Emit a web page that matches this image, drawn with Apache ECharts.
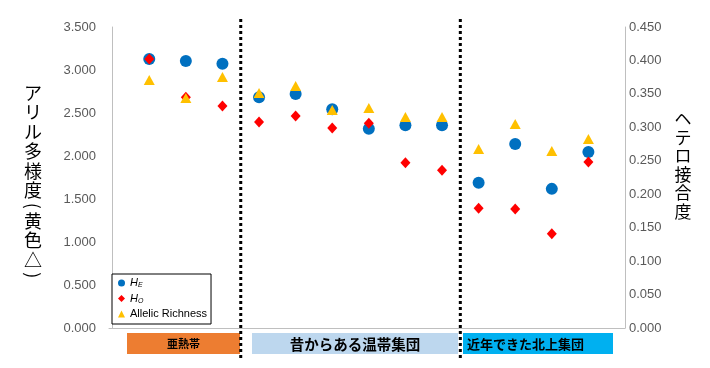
<!DOCTYPE html>
<html><head><meta charset="utf-8">
<script src="https://cdn.jsdelivr.net/npm/echarts@6/dist/echarts.min.js"></script>
<style>html,body{margin:0;padding:0;background:#fff}#c{width:710px;height:368px}</style>
</head><body><div id="c"></div>
<script>
// population positions along the x axis (1..13)
const positions = [1,2,3,4,5,6,7,8,9,10,11,12,13];
const groupNames = ['亜熱帯','昔からある温帯集団','近年できた北上集団'];
const groupDividers = [3.5, 9.5];
const seriesNames = ['HE','HO','Allelic Richness'];
// expected heterozygosity (right axis)
const heValues = [0.402,0.399,0.395,0.345,0.350,0.327,0.298,0.303,0.303,0.217,0.275,0.208,0.263];
// observed heterozygosity (right axis)
const hoValues = [0.402,0.345,0.332,0.308,0.317,0.299,0.306,0.247,0.236,0.179,0.178,0.141,0.248];
// allelic richness (left axis)
const arValues = [2.884,2.674,2.919,2.733,2.814,2.535,2.558,2.453,2.453,2.081,2.372,2.058,2.198];
const leftAxisName = 'アリル多様度（黄色△）';
const rightAxisName = 'ヘテロ接合度';

const toPairs = vals => positions.map((x,i)=>[x, vals[i]]);
const chart = echarts.init(document.getElementById('c'));
const tickFont = {color:'#595959', fontSize:13, fontFamily:'Liberation Sans, Arial, sans-serif'};
const axisLineStyle = {show:true, lineStyle:{color:'#BFBFBF', width:1}};

chart.setOption({
  animation:false,
  backgroundColor:'#fff',
  grid:{left:109, right:85, top:27, bottom:40},
  xAxis:{type:'value', min:-0.1, max:14, axisLine:{show:true, onZero:false, lineStyle:{color:'#BFBFBF'}}, axisTick:{show:false}, axisLabel:{show:false}, splitLine:{show:false}},
  yAxis:[
    {type:'value', min:0, max:3.5, interval:0.5, axisLine:axisLineStyle, axisTick:{show:false}, splitLine:{show:false},
     axisLabel:Object.assign({margin:13, formatter:v=>v.toFixed(3)}, tickFont)},
    {type:'value', min:0, max:0.45, interval:0.05, position:'right', axisLine:axisLineStyle, axisTick:{show:false}, splitLine:{show:false},
     axisLabel:Object.assign({margin:4, formatter:v=>v.toFixed(3)}, tickFont)}
  ],
  legend:{
    orient:'vertical', left:112, top:274, selectedMode:false,
    data:seriesNames,
    borderColor:'#000', borderWidth:1, backgroundColor:'#fff',
    padding:[3,4,4,6], itemWidth:7, itemHeight:7, itemGap:3.5,
    formatter: n => n==='HE' ? '{i|H}{s|E}' : (n==='HO' ? '{i|H}{s|O}' : '{t|'+n+'}'),
    textStyle:{color:'#000', fontSize:11, lineHeight:12, fontFamily:'Liberation Sans, Arial, sans-serif',
      rich:{
        i:{fontStyle:'italic', fontSize:11, color:'#000', fontFamily:'Liberation Sans, Arial, sans-serif'},
        s:{fontStyle:'italic', fontSize:7, color:'#000', verticalAlign:'bottom', padding:[4,0,0,0], fontFamily:'Liberation Sans, Arial, sans-serif'},
        t:{fontSize:11, color:'#000', fontFamily:'Liberation Sans, Arial, sans-serif'}
      }}
  },
  series:[
    {name:'HE', type:'scatter', yAxisIndex:1, symbol:'circle', symbolSize:12, itemStyle:{color:'#0070C0', opacity:1}, data:toPairs(heValues)},
    {name:'HO', type:'scatter', yAxisIndex:1, symbol:'diamond', symbolSize:[10,11], itemStyle:{color:'#FF0000', opacity:1}, data:toPairs(hoValues)},
    {name:'Allelic Richness', type:'scatter', yAxisIndex:0, symbol:'triangle', symbolSize:[11,10], itemStyle:{color:'#FFC000', opacity:1}, data:toPairs(arValues)}
  ]
});

// decorations: group dividers, group label boxes, vertical axis titles
const g = [];
groupDividers.forEach(d=>{
  const px = chart.convertToPixel({xAxisIndex:0}, d);
  g.push({type:'line', shape:{x1:px, y1:19, x2:px, y2:358}, style:{stroke:'#000', lineWidth:3, lineDash:[3,3]}, z:10});
});
const boxes = [
  {x:127, w:113, fill:'#ED7D31', font:'bold 11px "Noto Sans CJK JP"', align:'center'},
  {x:252, w:206, fill:'#BDD7EE', font:'bold 14.5px "Noto Sans CJK JP"', align:'center'},
  {x:463, w:150, fill:'#00B0F0', font:'bold 13px "Noto Sans CJK JP"', align:'left'}
];
boxes.forEach((b,i)=>{
  g.push({type:'rect', shape:{x:b.x, y:333, width:b.w, height:21}, style:{fill:b.fill}, z:5});
  g.push({type:'text', x: b.align==='center' ? b.x+b.w/2 : b.x+4, y:344,
    style:{text:groupNames[i], font:b.font, fill:'#000', textAlign:b.align, textVerticalAlign:'middle'}, z:6});
});
// vertical (tategaki) axis titles: one upright character per line, brackets turned
function verticalTitle(s, cx, cy, size, step, parenStep){
  const chars = Array.from(s);
  const steps = chars.map(ch => (ch==='（'||ch==='）') ? parenStep : step);
  const total = steps.reduce((a,b)=>a+b,0);
  let y = cy - total/2;
  chars.forEach((ch,i)=>{
    const c = y + steps[i]/2;
    const isParen = (ch==='（'||ch==='）');
    g.push({type:'text', x:cx, y:c, rotation: isParen ? -Math.PI/2 : 0,
      style:{text: isParen ? (ch==='（' ? '(' : ')') : ch, font: size+'px "Noto Sans CJK JP"', fill:'#000',
        textAlign:'center', textVerticalAlign:'middle'}, z:6});
    y += steps[i];
  });
}
verticalTitle(leftAxisName, 33, 182, 18, 19.5, 11);
verticalTitle(rightAxisName, 683, 165, 17, 18.5, 10);
chart.setOption({graphic:g});
</script></body></html>
